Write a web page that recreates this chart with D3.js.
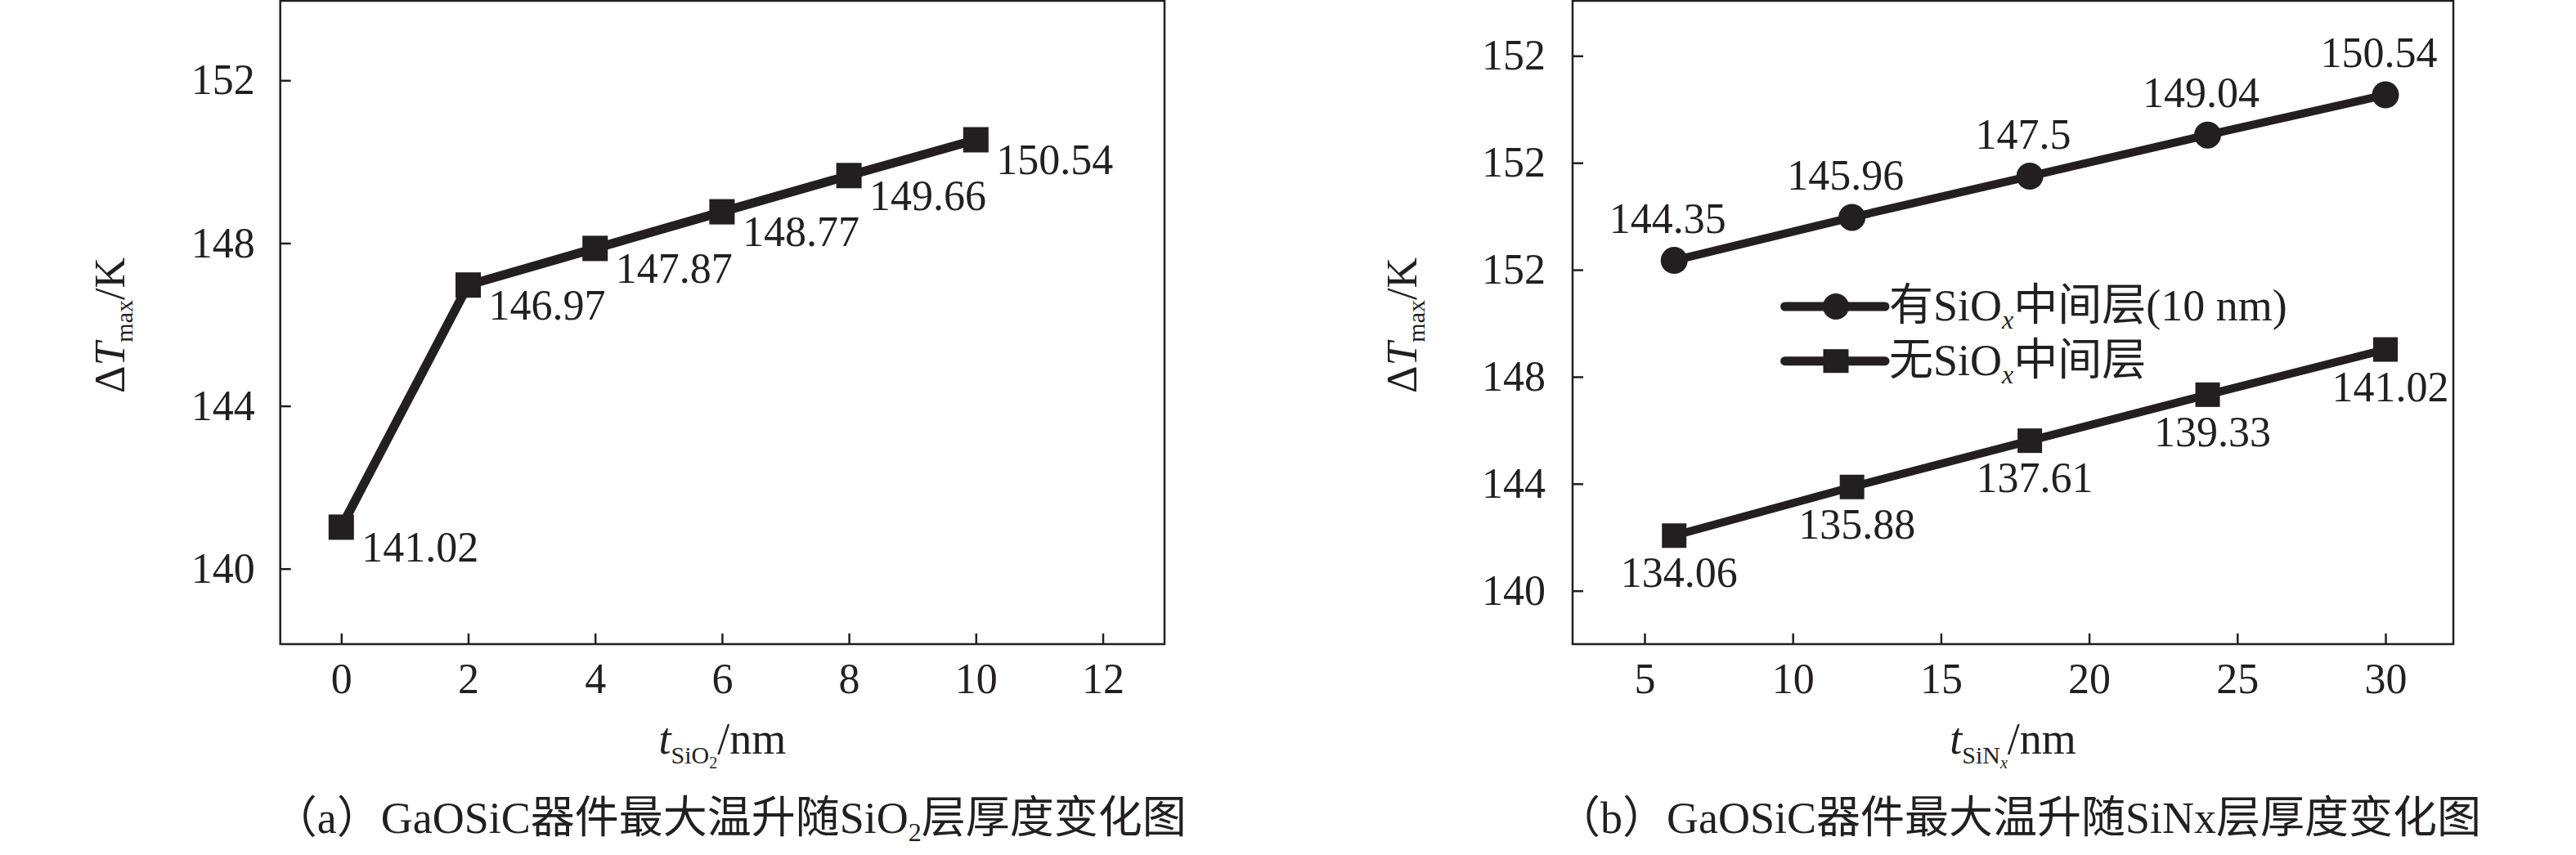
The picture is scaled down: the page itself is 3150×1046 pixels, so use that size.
<!DOCTYPE html>
<html>
<head>
<meta charset="utf-8">
<script src="https://cdn.jsdelivr.net/npm/d3@7"></script>
<style>
  html, body { margin: 0; padding: 0; background: #ffffff; }
  svg { display: block; }
</style>
</head>
<body>
<svg id="chart" width="3150" height="1046"></svg>
<script>
// ---------------- data ----------------
const thicknessSiO2 = [0, 2, 4, 6, 8, 10];                       // panel (a) x, nm
const deltaTmaxA    = [141.02, 146.97, 147.87, 148.77, 149.66, 150.54];

const thicknessSiNx = [6, 12, 18, 24, 30];                        // panel (b) x, nm
const deltaTWithSiOx    = [144.35, 145.96, 147.5, 149.04, 150.54];
const deltaTWithoutSiOx = [134.06, 135.88, 137.61, 139.33, 141.02];

const xTicksA = [0, 2, 4, 6, 8, 10, 12];
const yTicksA = [140, 144, 148, 152];
const xTicksB = [5, 10, 15, 20, 25, 30];
const yTicksB = [132, 136, 140, 144, 148, 152];
const yTickLabelsB = ["140", "144", "148", "152", "152", "152"];  // as printed in the original

const legendNames = ["有SiO|x|中间层(10 nm)", "无SiO|x|中间层"];
const captionA = ["（a）GaOSiC器件最大温升随SiO", "2", "层厚度变化图"];
const captionB = ["（b）GaOSiC器件最大温升随SiNx层厚度变化图"];

// ---------------- style ----------------
const INK = "#231f20";
const LATIN = "'Liberation Serif','Times New Roman',serif";
const CJK = "'Noto Sans CJK SC','Noto Sans CJK JP',sans-serif";
const FONT = LATIN;
const NUM_SIZE = 52;

const svg = d3.select("#chart").style("font-family", FONT);
svg.append("rect").attr("width", 3150).attr("height", 1046).attr("fill", "#fff");

// append a string as tspans, CJK runs in the CJK font, the rest in the serif font
function mixed(t, str, first) {
  const parts = str.match(/[\u3000-\u303f\u3400-\u9fff\uff00-\uffef]+|[^\u3000-\u303f\u3400-\u9fff\uff00-\uffef]+/g) || [];
  const spans = [];
  parts.forEach(p => {
    const isCJK = /[\u3000-\u303f\u3400-\u9fff\uff00-\uffef]/.test(p);
    spans.push(t.append("tspan").style("font-family", isCJK ? CJK : LATIN).text(p));
  });
  return spans;
}

function frame(g, box) {
  g.append("rect")
    .attr("x", box.left).attr("y", box.top)
    .attr("width", box.right - box.left).attr("height", box.bottom - box.top)
    .attr("fill", "none").attr("stroke", INK).attr("stroke-width", 2.5);
}

function axes(g, box, x, y, xt, yt, yLabels, yPad) {
  const xa = d3.axisBottom(x).tickValues(xt).tickSize(-13).tickPadding(23).tickSizeOuter(0);
  const gx = g.append("g").attr("transform", `translate(0,${box.bottom})`).call(xa);
  const ya = d3.axisLeft(y).tickValues(yt).tickSize(-13).tickPadding(yPad).tickSizeOuter(0);
  if (yLabels) ya.tickFormat((d, i) => yLabels[i]);
  const gy = g.append("g").attr("transform", `translate(${box.left},0)`).call(ya);
  [gx, gy].forEach(s => {
    s.select(".domain").remove();
    s.selectAll(".tick line").attr("stroke", INK).attr("stroke-width", 2.5);
    s.selectAll(".tick text").attr("fill", INK).style("font-size", NUM_SIZE + "px")
      .style("font-family", LATIN);
  });
}

function yTitle(g, cx, cy) {
  const t = g.append("text")
    .attr("transform", `translate(${cx},${cy}) rotate(-90)`)
    .attr("text-anchor", "middle").attr("fill", INK).style("font-size", "52px");
  t.append("tspan").text("Δ");
  t.append("tspan").attr("font-style", "italic").text("T");
  t.append("tspan").style("font-size", "30px").attr("dy", 10).text("max");
  t.append("tspan").attr("dy", -10).text("/K");
}

function xTitle(g, cx, by, sub, subsub, subsubItalic) {
  const t = g.append("text").attr("x", cx).attr("y", by)
    .attr("text-anchor", "middle").attr("fill", INK).style("font-size", "54px");
  t.append("tspan").attr("font-style", "italic").text("t");
  t.append("tspan").style("font-size", "30px").attr("dy", 12).text(sub);
  t.append("tspan").style("font-size", "20px").attr("dy", 6)
    .attr("font-style", subsubItalic ? "italic" : "normal").text(subsub);
  t.append("tspan").attr("dy", -18).text("/nm");
}

function caption(g, cx, by, parts) {
  const t = g.append("text").attr("x", cx).attr("y", by)
    .attr("text-anchor", "middle").attr("fill", INK).style("font-size", "54px");
  mixed(t, parts[0]);
  if (parts.length > 1) {
    t.append("tspan").style("font-family", LATIN).style("font-size", "32px").attr("dy", 10).text(parts[1]);
    const sp = mixed(t, parts[2]);
    sp[0].attr("dy", -10);
  }
}

// ---------------- panel (a) ----------------
{
  const box = { left: 342.7, right: 1424, top: 1, bottom: 788 };
  const g = svg.append("g");
  const x = d3.scaleLinear().domain([0, 12]).range([417.3, 1348.5]);
  const y = d3.scaleLinear().domain([140, 152]).range([695.7, 98.3]);
  frame(g, box);
  axes(g, box, x, y, xTicksA, yTicksA, null, 31);

  const pts = thicknessSiO2.map((v, i) => [v, deltaTmaxA[i]]);
  g.append("path").datum(pts)
    .attr("d", d3.line().x(d => x(d[0])).y(d => y(d[1])))
    .attr("fill", "none").attr("stroke", INK).attr("stroke-width", 11)
    .attr("stroke-linejoin", "round");
  const s = 31;
  g.selectAll("rect.mk").data(pts).join("rect").attr("class", "mk")
    .attr("x", d => x(d[0]) - s / 2).attr("y", d => y(d[1]) - s / 2)
    .attr("width", s).attr("height", s).attr("fill", INK);
  g.selectAll("text.lbl").data(pts).join("text").attr("class", "lbl")
    .attr("x", d => x(d[0]) + 25).attr("y", d => y(d[1]) + 42)
    .attr("fill", INK).style("font-size", NUM_SIZE + "px")
    .text(d => d[1].toFixed(2));

  yTitle(g, 151.7, 398);
  xTitle(g, (box.left + box.right) / 2, 921.7, "SiO", "2", false);
  caption(g, (box.left + box.right) / 2 + 9, 1019, captionA);
}

// ---------------- panel (b) ----------------
{
  const box = { left: 1923, right: 3000, top: 1, bottom: 788 };
  const g = svg.append("g");
  const x = d3.scaleLinear().domain([5, 30]).range([2011, 2917]);
  const y = d3.scaleLinear().domain([132, 152]).range([722.7, 68.3]);
  frame(g, box);
  axes(g, box, x, y, xTicksB, yTicksB, yTickLabelsB, 33);

  const line = d3.line().x(d => x(d[0])).y(d => y(d[1]));
  const up = thicknessSiNx.map((v, i) => [v, deltaTWithSiOx[i]]);
  const lo = thicknessSiNx.map((v, i) => [v, deltaTWithoutSiOx[i]]);
  [up, lo].forEach(pts => {
    g.append("path").datum(pts).attr("d", line)
      .attr("fill", "none").attr("stroke", INK).attr("stroke-width", 10)
      .attr("stroke-linejoin", "round");
  });
  g.selectAll("circle.mk").data(up).join("circle").attr("class", "mk")
    .attr("cx", d => x(d[0])).attr("cy", d => y(d[1])).attr("r", 16.5).attr("fill", INK);
  const s = 30;
  g.selectAll("rect.mk").data(lo).join("rect").attr("class", "mk")
    .attr("x", d => x(d[0]) - s / 2).attr("y", d => y(d[1]) - s / 2)
    .attr("width", s).attr("height", s).attr("fill", INK);

  g.selectAll("text.lu").data(up).join("text").attr("class", "lu")
    .attr("x", d => x(d[0]) - 8).attr("y", d => y(d[1]) - 34)
    .attr("text-anchor", "middle").attr("fill", INK).style("font-size", NUM_SIZE + "px")
    .text(d => String(d[1]));
  g.selectAll("text.ll").data(lo).join("text").attr("class", "ll")
    .attr("x", d => x(d[0]) + 6).attr("y", d => y(d[1]) + 63)
    .attr("text-anchor", "middle").attr("fill", INK).style("font-size", NUM_SIZE + "px")
    .text(d => d[1].toFixed(2));

  // legend
  const rows = [375, 441.7];
  legendNames.forEach((name, i) => {
    const cy = rows[i];
    g.append("line").attr("x1", 2182.6).attr("x2", 2305).attr("y1", cy).attr("y2", cy)
      .attr("stroke", INK).attr("stroke-width", 11).attr("stroke-linecap", "round");
    if (i === 0) {
      g.append("circle").attr("cx", 2245).attr("cy", cy).attr("r", 16).attr("fill", INK);
    } else {
      g.append("rect").attr("x", 2245 - 15.5).attr("y", cy - 14.5)
        .attr("width", 31).attr("height", 29).attr("fill", INK);
    }
    const [a, b, c] = name.split("|");
    const t = g.append("text").attr("x", 2310).attr("y", cy + 17)
      .attr("fill", INK).style("font-size", "54px");
    mixed(t, a);
    t.append("tspan").style("font-family", LATIN).attr("font-style", "italic")
      .style("font-size", "32px").attr("dy", 10).text(b);
    const sp = mixed(t, c);
    sp[0].attr("dy", -10);
  });

  yTitle(g, 1732, 398);
  xTitle(g, (box.left + box.right) / 2, 921.7, "SiN", "x", true);
  caption(g, (box.left + box.right) / 2 + 7, 1019, captionB);
}
</script>
</body>
</html>
